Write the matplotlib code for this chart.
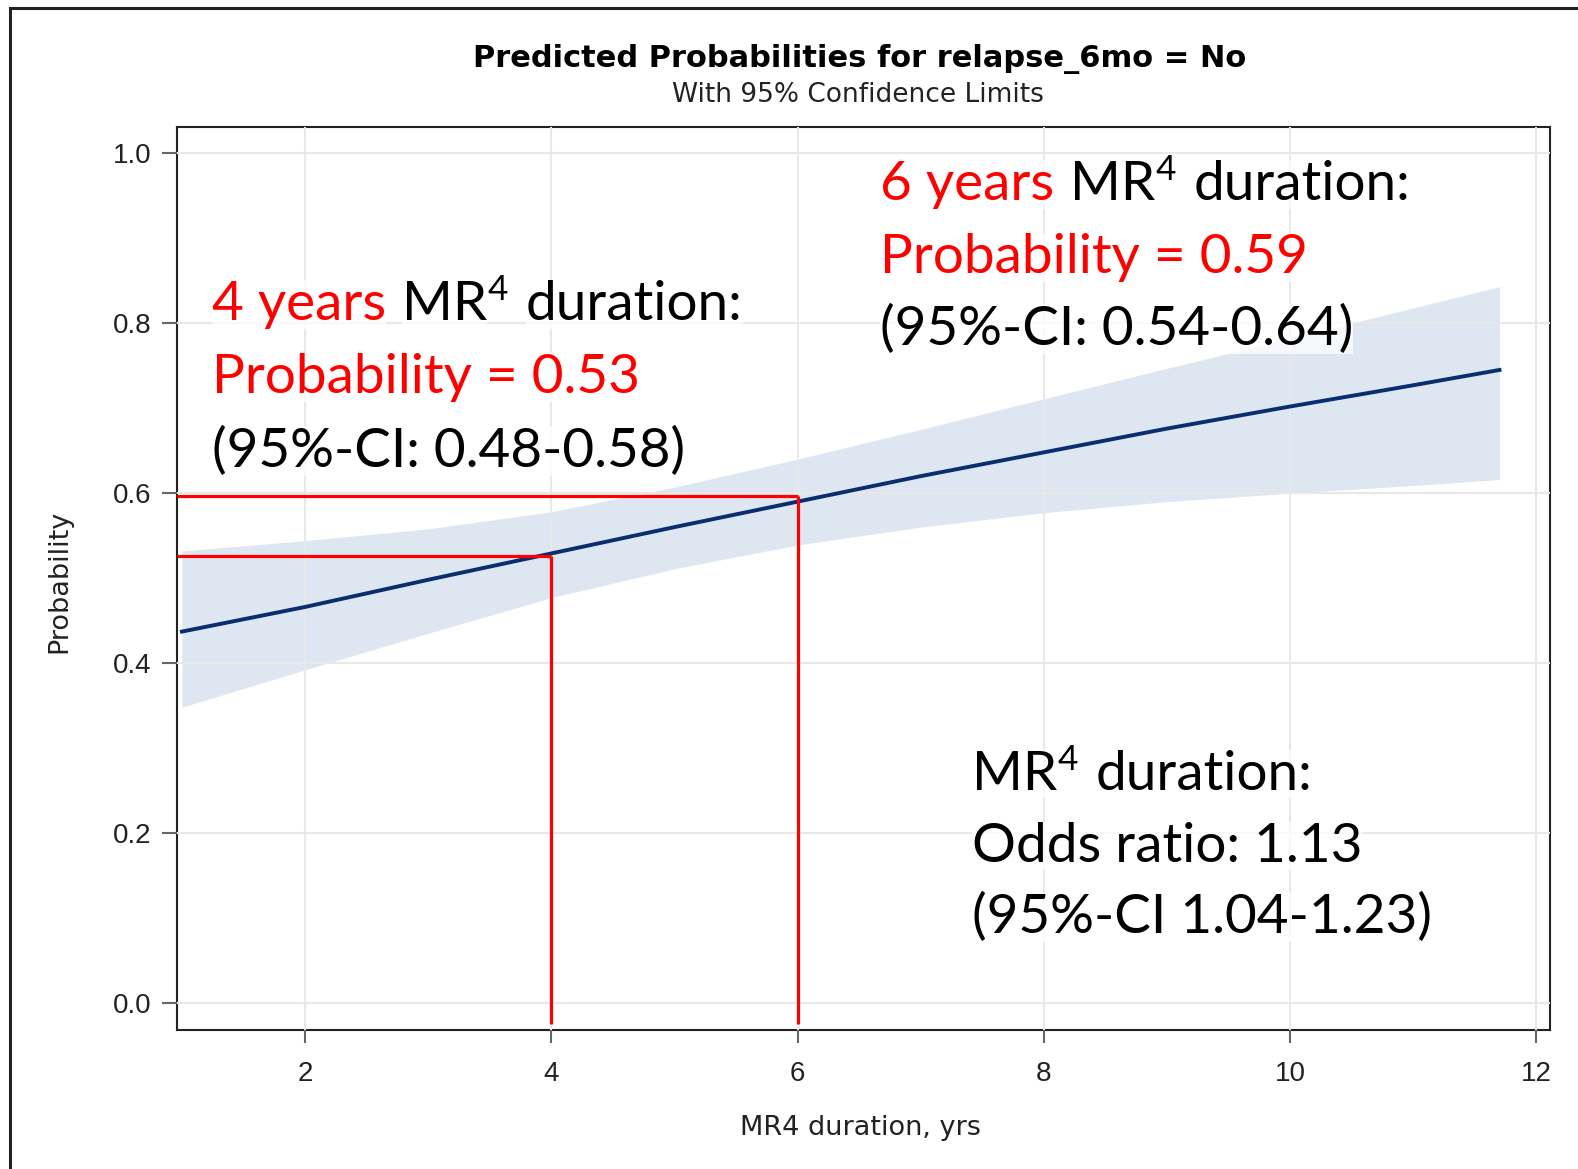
import numpy as np
import matplotlib
matplotlib.use('Agg')
import matplotlib.pyplot as plt
from matplotlib.patches import Rectangle

# predicted probability curve and 95% limits
mr4_years = [1.0, 2, 3, 4, 5, 6, 7, 8, 9, 10, 11, 11.7]
prob = [0.437, 0.466, 0.498, 0.529, 0.560, 0.590, 0.620, 0.648, 0.676, 0.702, 0.727, 0.745]
lower = [0.348, 0.392, 0.435, 0.477, 0.511, 0.539, 0.560, 0.577, 0.590, 0.600, 0.609, 0.616]
upper = [0.532, 0.544, 0.558, 0.578, 0.607, 0.640, 0.675, 0.711, 0.747, 0.782, 0.818, 0.843]

# reference lines drawn by hand on the chart
ref_years = [4, 6]
ref_prob = [0.526, 0.597]

x_ticks = [2, 4, 6, 8, 10, 12]
y_ticks = [0.0, 0.2, 0.4, 0.6, 0.8, 1.0]

W, H = 1578, 1169
SAS_FONT = 'DejaVu Sans'
TICK_FONT = 'Liberation Sans'
NOTE_FONT = 'Lato'
NOTE_SIZE = 39.5

fig = plt.figure(figsize=(W / 100, H / 100), dpi=100)
ax = fig.add_axes([177 / W, (H - 1030) / H, (1550 - 177) / W, (1030 - 127) / H])

# Confidence band and fitted line
ax.fill_between(mr4_years, lower, upper, color='#d5e0ee', alpha=0.8, lw=0, zorder=1)
ax.plot(mr4_years, prob, color='#0a2d6e', lw=2.8, zorder=3)

# Red guide lines
for xr, yr in zip(ref_years, ref_prob):
    ax.plot([0.96, xr], [yr, yr], color='red', lw=2.3, zorder=4, solid_capstyle='butt')
    ax.plot([xr, xr], [yr, -0.025], color='red', lw=2.3, zorder=4, solid_capstyle='butt')

ax.set_xlim(0.96, 12.11)
ax.set_ylim(-0.032, 1.031)
ax.set_xticks(x_ticks)
ax.set_yticks(y_ticks)
ax.set_yticklabels([f'{v:.1f}' for v in y_ticks])
ax.grid(True, color='#e8e8e8', lw=1.5, zorder=2)
ax.set_axisbelow(False)
for s in ax.spines.values():
    s.set_color('#222222')
    s.set_linewidth(1.5)
ax.tick_params(axis='both', colors='#666666', labelcolor='#222222', width=1.5,
               labelsize=20)
ax.tick_params(axis='x', length=9.5, pad=13)
ax.tick_params(axis='y', length=10.5, pad=8)
for lab in ax.get_xticklabels() + ax.get_yticklabels():
    lab.set_fontfamily(TICK_FONT)

ax.set_xlabel('MR4 duration, yrs', fontsize=19.5, family=SAS_FONT, color='#222222')
ax.set_ylabel('Probability', fontsize=19.5, family=SAS_FONT, color='#222222')
ax.xaxis.set_label_coords(0.498, -0.094)
ax.yaxis.set_label_coords(-0.0765, 0.497)

fig.text(860 / W, 1 - 67 / H, 'Predicted Probabilities for relapse_6mo = No',
         ha='center', va='baseline', fontsize=22, fontweight='bold', family=SAS_FONT)
fig.text(858 / W, 1 - 102 / H, 'With 95% Confidence Limits',
         ha='center', va='baseline', fontsize=19, family=SAS_FONT, color='#222222')

# outer frame of the exported picture
fig.add_artist(Rectangle((10 / W, -0.1), 1.2, 1.1 - 8 / H, transform=fig.transFigure,
                         fill=False, ec='#222222', lw=2.2))

renderer = fig.canvas.get_renderer()


def text_width(s, size):
    t = fig.text(0, 0, s, fontsize=size, family=NOTE_FONT)
    w = t.get_window_extent(renderer).width
    t.remove()
    return w


space_w = 1.15 * (text_width('x x', NOTE_SIZE) - text_width('xx', NOTE_SIZE))
em_px = NOTE_SIZE * 100 / 72


def note_line(x_px, y_px, parts):
    # parts: (text, colour, superscript, space before)
    x = x_px
    for txt, col, sup, gap in parts:
        if gap:
            x += space_w
        size = NOTE_SIZE * 0.64 if sup else NOTE_SIZE
        y = y_px - (0.36 * em_px if sup else 0)
        t = fig.text(x / W, 1 - y / H, txt, fontsize=size, family=NOTE_FONT, color=col,
                     ha='left', va='baseline',
                     bbox=dict(fc='white', ec='none', alpha=0.75, pad=0))
        x = t.get_window_extent(renderer).x1 + (2 if sup else 0)


def header(x, y, years):
    note_line(x, y, [(f'{years} years', 'red', False, False), ('MR', 'black', False, True),
                     ('4', 'black', True, False), ('duration:', 'black', False, True)])


header(212, 320, 4)
note_line(212, 393, [('Probability = 0.53', 'red', False, False)])
note_line(212, 467, [('(95%-CI: 0.48-0.58)', 'black', False, False)])

header(880, 200, 6)
note_line(880, 273, [('Probability = 0.59', 'red', False, False)])
note_line(880, 345, [('(95%-CI: 0.54-0.64)', 'black', False, False)])

note_line(972, 790, [('MR', 'black', False, False), ('4', 'black', True, False),
                     ('duration:', 'black', False, True)])
note_line(972, 862, [('Odds ratio: 1.13', 'black', False, False)])
note_line(972, 933, [('(95%-CI 1.04-1.23)', 'black', False, False)])

fig.savefig('out.png', dpi=100, facecolor='white')
